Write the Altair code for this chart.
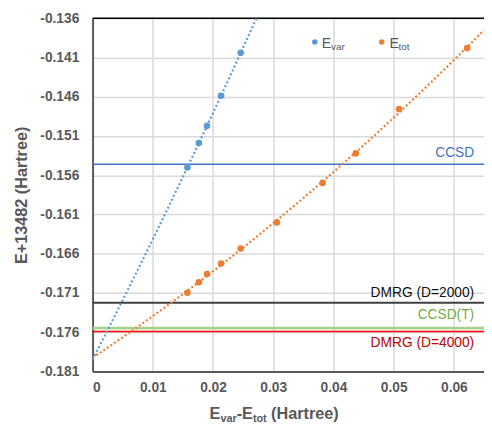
import altair as alt
import pandas as pd

# ---- data ----
x_vals = [0.01575, 0.01765, 0.0190, 0.02134, 0.0246, 0.0306, 0.0382, 0.0437, 0.0509, 0.0622]
e_var = [-0.1550, -0.1519, -0.1497, -0.14586, -0.1404]
e_tot = [-0.17097, -0.16963, -0.16859, -0.16725, -0.16533,
         -0.16203, -0.15697, -0.15321, -0.14757, -0.1398]

ref_names = ["CCSD", "DMRG (D=2000)", "CCSD(T)", "DMRG (D=4000)"]
ref_values = [-0.15459, -0.17226, -0.17548, -0.1759]

y_ticks = [-0.181, -0.176, -0.171, -0.166, -0.161, -0.156, -0.151, -0.146, -0.141, -0.136]
x_ticks = [0, 0.01, 0.02, 0.03, 0.04, 0.05, 0.06]
x_domain = [0, 0.065]

FONT = "Liberation Sans"
GRAY = "#595959"
BLUE = "#5B9BD5"
ORANGE = "#ED7D31"

df_var = pd.DataFrame({"x": x_vals[:len(e_var)], "y": e_var})
df_tot = pd.DataFrame({"x": x_vals, "y": e_tot})
df_ref = pd.DataFrame({"name": ref_names, "y": ref_values})
df_top = pd.DataFrame({"y": [y_ticks[-1]]})
dummy = pd.DataFrame({"a": [0]})

x_enc = alt.X("x:Q", scale=alt.Scale(domain=x_domain, nice=False, zero=False),
              axis=alt.Axis(values=x_ticks, title=None, ticks=False,
                            labelExpr="datum.value == 0 ? '0' : format(datum.value, '.2f')",
                            labelFont=FONT, labelFontSize=14, labelFontWeight="bold",
                            labelColor=GRAY, labelPadding=9,
                            domainColor=GRAY, domainWidth=2,
                            gridColor="#D9D9D9", gridWidth=1.5))
y_enc = alt.Y("y:Q", scale=alt.Scale(domain=[y_ticks[0], y_ticks[-1]], nice=False, zero=False),
              axis=alt.Axis(values=y_ticks, title="E+13482 (Hartree)", ticks=False,
                            labelExpr="'-' + format(-datum.value, '.3f')",
                            labelFont=FONT, labelFontSize=14, labelFontWeight="bold",
                            labelColor=GRAY, labelPadding=14,
                            titleFont=FONT, titleFontSize=16.5, titleFontWeight="bold",
                            titleColor=GRAY, titlePadding=10,
                            domainColor=GRAY, domainWidth=2,
                            gridColor="#D9D9D9", gridWidth=1.5))

layers = []

# reference horizontal lines
ref_style = {
    "CCSD": dict(line="#4472C4", width=1.5, text="#4472C4", dy=-11),
    "DMRG (D=2000)": dict(line="#404040", width=2, text="#111111", dy=-9.5),
    "CCSD(T)": dict(line="#A9D18E", width=3, text="#70AD47", dy=-13),
    "DMRG (D=4000)": dict(line="#FF0000", width=1.5, text="#C00000", dy=11.5),
}
for name in ref_names:
    st = ref_style[name]
    sub = alt.Chart(df_ref).transform_filter(alt.datum.name == name)
    layers.append(sub.mark_rule(color=st["line"], strokeWidth=st["width"]).encode(y=y_enc))
    layers.append(sub.mark_text(align="right", baseline="middle", dy=st["dy"], font=FONT,
                                fontSize=14, color=st["text"])
                  .encode(y=y_enc, x=alt.value(388), text="name:N"))

# top border
layers.append(alt.Chart(df_top).mark_rule(color="#000000", strokeWidth=1.5).encode(y=y_enc))

# trendlines (quadratic)
layers.append(alt.Chart(df_var)
              .transform_regression("x", "y", method="poly", order=2, extent=[0, 0.03])
              .mark_line(clip=True, color=BLUE, strokeWidth=2.2, strokeDash=[2, 2.4])
              .encode(x=x_enc, y=y_enc))
layers.append(alt.Chart(df_tot)
              .transform_regression("x", "y", method="poly", order=2, extent=x_domain)
              .mark_line(clip=True, color=ORANGE, strokeWidth=2.2, strokeDash=[2, 2.4])
              .encode(x=x_enc, y=y_enc))

# points
layers.append(alt.Chart(df_var).mark_circle(size=45, opacity=1, color=BLUE).encode(x=x_enc, y=y_enc))
layers.append(alt.Chart(df_tot).mark_circle(size=45, opacity=1, color=ORANGE).encode(x=x_enc, y=y_enc))

# manual legend
def txt(s, x, y, size, color=GRAY, weight="normal"):
    return alt.Chart(dummy).mark_text(text=s, align="left", baseline="alphabetic", font=FONT,
                                      fontSize=size, fontWeight=weight, color=color).encode(
        x=alt.value(x), y=alt.value(y))

def dot(x, y, color):
    return alt.Chart(dummy).mark_circle(size=32, opacity=1, color=color).encode(
        x=alt.value(x), y=alt.value(y))

layers += [
    dot(226, 24, BLUE), txt("E", 233, 30, 14.5), txt("var", 242.5, 32, 10),
    dot(294, 24, ORANGE), txt("E", 302, 30, 14.5), txt("tot", 311, 32, 10),
]

# x-axis title with subscripts
tb = 407
layers += [
    txt("E", 119, tb, 16.5, weight="bold"),
    txt("var", 130, tb + 3, 11, weight="bold"),
    txt("-", 146.5, tb, 16.5, weight="bold"),
    txt("E", 152, tb, 16.5, weight="bold"),
    txt("tot", 163, tb + 3, 11, weight="bold"),
    txt("(Hartree)", 181.5, tb, 16.5, weight="bold"),
]

chart = alt.layer(*layers).properties(
    width=398, height=359,
    autosize=alt.AutoSizeParams(type="none"),
    padding={"left": 86, "top": 7, "right": 0, "bottom": 53},
).configure_view(stroke=None)

chart.save("out.html", embed_options={"renderer": "svg", "actions": False})
